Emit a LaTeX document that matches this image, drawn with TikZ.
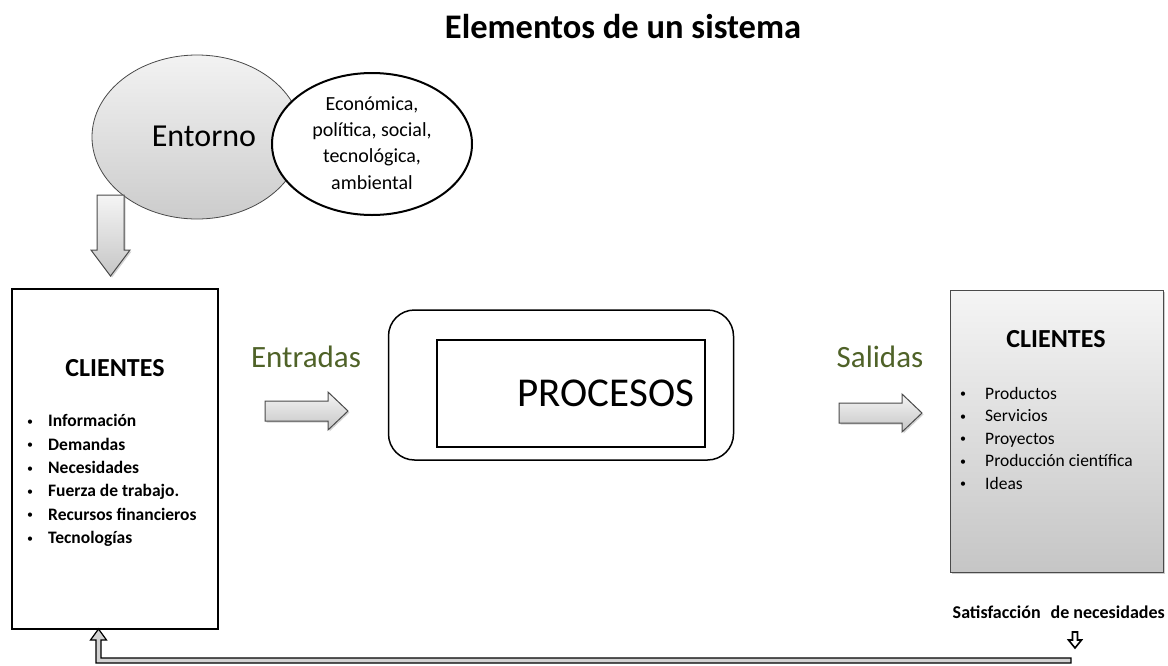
\documentclass[tikz,border=0pt]{standalone}
\usepackage{fontspec}
\setmainfont{Carlito}
\usetikzlibrary{shadows,calc,shapes.geometric}
\definecolor{olive}{HTML}{4F6228}
\definecolor{edgegray}{HTML}{4A4A4A}
\tikzset{
  fs/.style={font=\fontsize{#1}{#1}\selectfont},
  blockarrow/.style={draw=edgegray, line width=1pt, top color=gray!8, bottom color=gray!45, drop shadow={shadow xshift=1.5pt, shadow yshift=-1.5pt, opacity=0.35}},
  item/.style={anchor=west, inner sep=0pt, text height=11pt, text depth=3pt},
  bul/.style={inner sep=0pt, font=\fontsize{12}{12}\selectfont},
}
\begin{document}
\begin{tikzpicture}[x=1pt,y=-1pt]
\useasboundingbox (0,0) rectangle (1168,665);
% title
\node[font=\bfseries\fontsize{34.5}{34.5}\selectfont] (title) at (623,27) {Elementos de un sistema};
% Entorno ellipse
\draw[draw=edgegray, line width=0.8pt, top color=gray!10, bottom color=gray!40] (197,137) ellipse [x radius=105, y radius=82];
\node[fs=32] (entorno) at (204,136) {Entorno};
\node[draw=black, line width=2pt, fill=white, ellipse, minimum width=200pt, minimum height=142pt, inner sep=0pt] (ambito) at (372,144) {};
\node[align=center, font=\fontsize{20}{26.3}\selectfont] (ambtext) at (372,143) {Económica,\\política, social,\\tecnológica,\\ambiental};
% down arrow from Entorno
\draw[blockarrow] (97,195) -- (124,195) -- (124,250) -- (130,250) -- (110.5,276) -- (91,250) -- (97,250) -- cycle;
% left box
\node[draw=black, line width=2pt, minimum width=206pt, minimum height=340pt, inner sep=0pt, fill=white] (lbox) at (115,459) {};
\node[font=\bfseries\fontsize{26}{26}\selectfont] (lcli) at (115,368) {CLIENTES};
\foreach \t [count=\i] in {Información,Demandas,Necesidades,Fuerza de trabajo.,Recursos financieros,Tecnologías}{
  \node[bul] (lb\i) at (30,{399.5+23.3*\i}) {•};
  \node[item, font=\bfseries\fontsize{17.5}{17.5}\selectfont] (li\i) at (48,{399.5+23.3*\i}) {\t};
}
% Entradas
\node[fs=31, text=olive] (entradas) at (306,357) {Entradas};
\draw[blockarrow] (265,401) -- (328,401) -- (328,392) -- (348,411) -- (328,430) -- (328,421) -- (265,421) -- cycle;
% process
\node[draw=black, line width=1.5pt, rounded corners=26pt, minimum width=345pt, minimum height=150pt] (outer) at (561,385) {};
\node[draw=black, line width=2pt, minimum width=268pt, minimum height=107pt] (proc) at (571,393.5) {};
\node[fs=41] (proctext) at (606,393) {PROCESOS};
% Salidas
\node[fs=31, text=olive] (salidas) at (880,357) {Salidas};
\draw[blockarrow] (839,403) -- (902,403) -- (902,394) -- (922,413) -- (902,432) -- (902,423) -- (839,423) -- cycle;
% right box
\node[draw=edgegray, line width=1pt, minimum width=213pt, minimum height=282pt, top color=gray!8, bottom color=gray!45, drop shadow={shadow xshift=2pt, shadow yshift=-2pt, opacity=0.4}] (rbox) at (1056.5,431) {};
\node[font=\bfseries\fontsize{26}{26}\selectfont] (rcli) at (1056,339) {CLIENTES};
\foreach \t [count=\i] in {Productos,Servicios,Proyectos,Producción científica,Ideas}{
  \node[bul] (rb\i) at (963,{372.5+22.5*\i}) {•};
  \node[item, font=\fontsize{17.5}{17.5}\selectfont] (ri\i) at (985,{372.5+22.5*\i}) {\t};
}
% satisfaction
\node[font=\bfseries\fontsize{18}{18}\selectfont, anchor=east, inner sep=0pt] (sat) at (1165,612) {Satisfacción\hspace{10pt}de necesidades};
\draw[draw=black, line width=1.6pt, fill=white] (1072.5,632) -- (1077.5,632) -- (1077.5,640) -- (1081.5,640) -- (1075,648) -- (1068.5,640) -- (1072.5,640) -- cycle;
% feedback connector
\coordinate (fbend) at (1071,660.5);
\draw[draw=black, line width=1.2pt, fill=gray!35] 
  ($(lbox.south west)+(85,10)$) -- ($(lbox.south west)+(85,33)$) -- (fbend |- 0,663) -- (fbend |- 0,658) -- ($(lbox.south west)+(90,28)$) -- ($(lbox.south west)+(90,10)$) -- ($(lbox.south west)+(95.5,10)$) -- ($(lbox.south west)+(87.5,-1)$) -- ($(lbox.south west)+(79.5,10)$) -- cycle;
\end{tikzpicture}
\end{document}
